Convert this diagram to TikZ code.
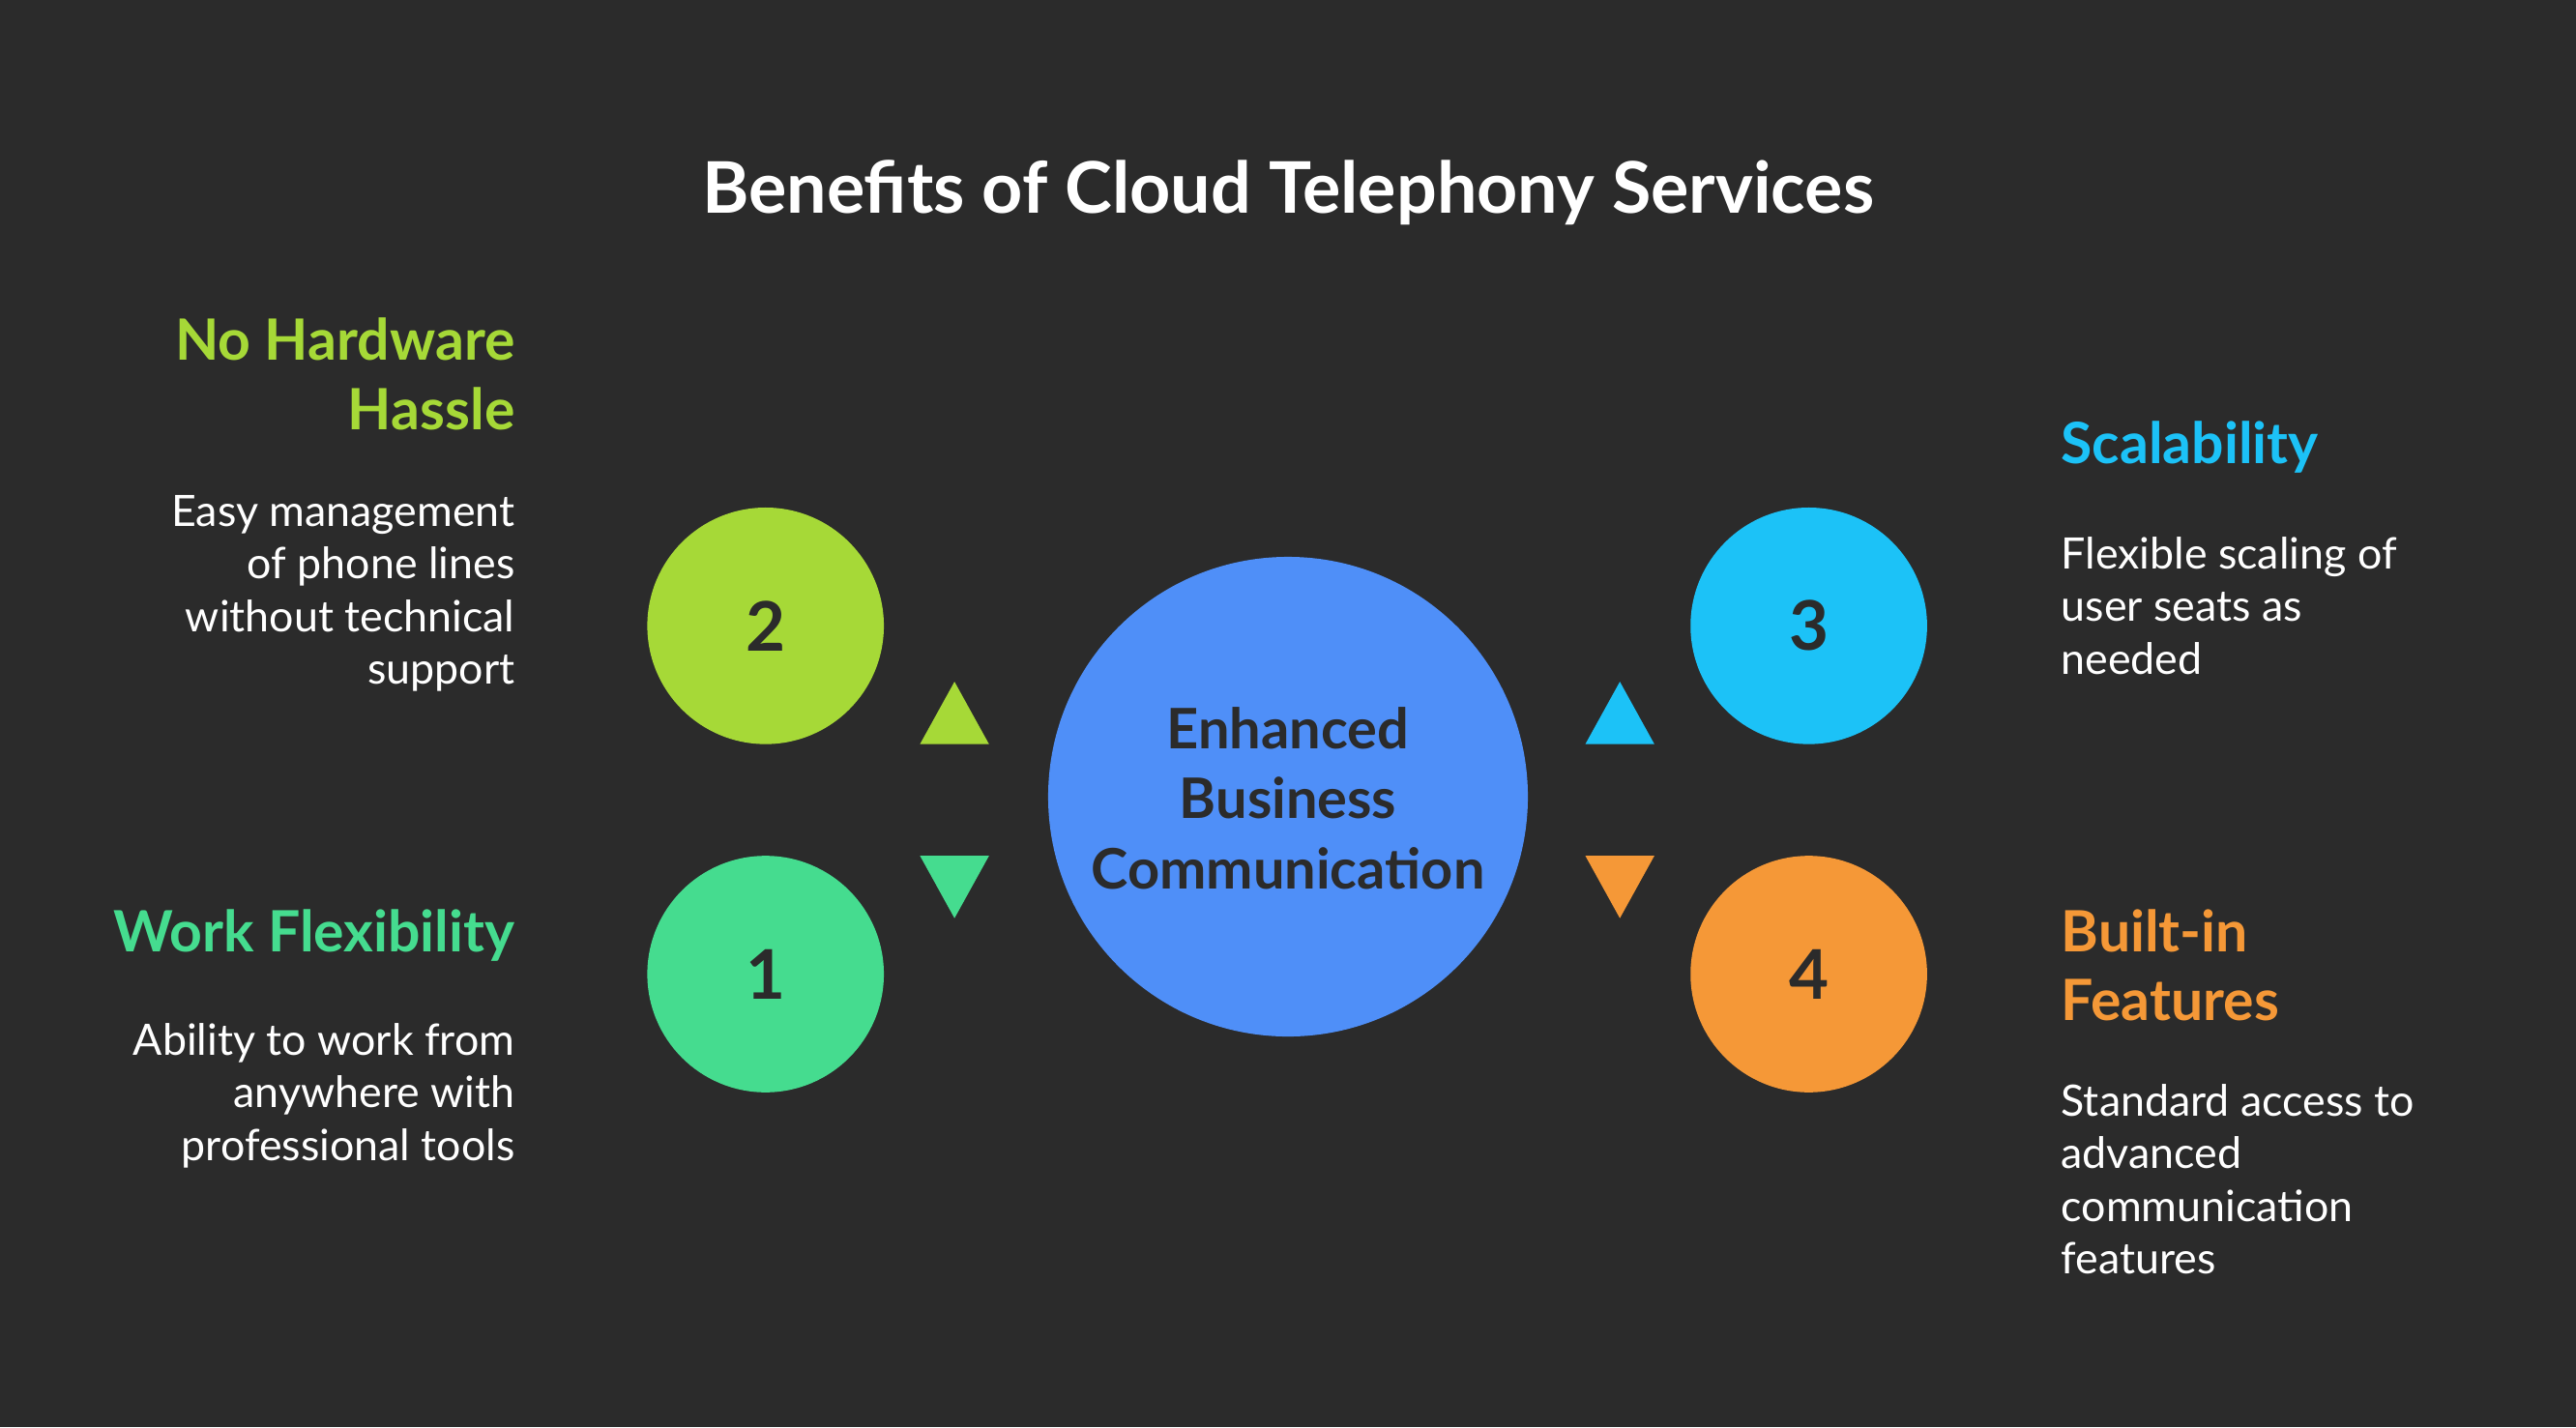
\documentclass[tikz,border=0pt]{standalone}
\usepackage{fontspec}
\setmainfont{Lato}
\definecolor{bg}{HTML}{2B2B2B}
\definecolor{cblue}{HTML}{4F8FF8}
\definecolor{cy}{HTML}{A6D937}
\definecolor{cg}{HTML}{45DC8F}
\definecolor{cc}{HTML}{1CC2F7}
\definecolor{co}{HTML}{F59837}
\begin{document}
\begin{tikzpicture}[x=0.3pt,y=-0.3pt,
  head/.style={font=\fontsize{10.4}{12}\selectfont\bfseries,inner sep=0},
  desc/.style={font=\fontsize{7.9}{9.6}\selectfont,text=white,inner sep=0},
  num/.style={font=\fontsize{12.5}{14}\selectfont\bfseries,text=bg},
  tri/.style={fill=#1,draw=none}]
\fill[bg] (0,0) rectangle (1568,869);
\useasboundingbox (0,0) rectangle (1568,869);
\node[font=\fontsize{13}{15}\selectfont\bfseries,text=white] (title) at (784,117) {Benefits of Cloud Telephony Services};
\node[circle,fill=cblue,minimum size=292*0.3pt,inner sep=0] (c) at (784,485) {};
\node[font=\fontsize{10.2}{12.8}\selectfont\bfseries,text=bg,align=center] (ct) at (784,486) {Enhanced\\Business\\Communication};
\foreach \n/\x/\y/\col/\lab in {n2/466/381/cy/2,n1/466/593/cg/1,n3/1101/381/cc/3,n4/1101/593/co/4}
  \node[circle,fill=\col,minimum size=144*0.3pt,inner sep=0,num] (\n) at (\x,\y) {\lab};
\fill[cy] (560,453) -- (602,453) -- (581,415) -- cycle;
\fill[cg] (560,521) -- (602,521) -- (581,559) -- cycle;
\fill[cc] (965,453) -- (1007,453) -- (986,415) -- cycle;
\fill[co] (965,521) -- (1007,521) -- (986,559) -- cycle;
% left
\node[head,text=cy,anchor=mid east] (h2a) at (314,211) {No Hardware};
\node[head,text=cy,anchor=mid east] (h2b) at (314,253) {Hassle};
\foreach \t/\y [count=\i] in {Easy management/312,of phone lines/344,without technical/376,support/408}
  \node[desc,anchor=mid east] (d2\i) at (314,\y) {\t};
\node[head,text=cg,anchor=mid east] (h1) at (314,571) {Work Flexibility};
\foreach \t/\y [count=\i] in {Ability to work from/634,anywhere with/666,professional tools/698}
  \node[desc,anchor=mid east] (d1\i) at (314,\y) {\t};
% right
\node[head,text=cc,anchor=mid west] (h3) at (1254,274) {Scalability};
\foreach \t/\y [count=\i] in {Flexible scaling of/338,user seats as/370,needed/402}
  \node[desc,anchor=mid west] (d3\i) at (1254,\y) {\t};
\node[head,text=co,anchor=mid west] (h4a) at (1254,571) {Built-in};
\node[head,text=co,anchor=mid west] (h4b) at (1254,613) {Features};
\foreach \t/\y [count=\i] in {Standard access to/671,advanced/703,communication/735,features/767}
  \node[desc,anchor=mid west] (d4\i) at (1254,\y) {\t};
\end{tikzpicture}
\end{document}
